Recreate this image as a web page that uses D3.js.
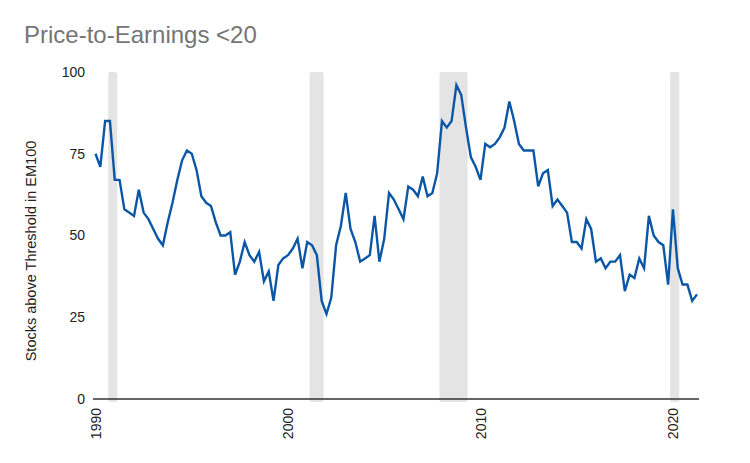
<!DOCTYPE html>
<html lang="en">
<head>
    <meta charset="UTF-8">
    <title>Price-to-Earnings &lt;20</title>
    <style type="text/css">
        * {
            margin: 0;
            padding: 0;
        }
        body {
            background: white;
            font-family: "Liberation Sans", Arial, sans-serif;
        }
    </style>
</head>
<body>
<div id="chart-area"></div>
<script src="https://cdn.jsdelivr.net/npm/d3@7/dist/d3.min.js"></script>
<script type="text/javascript">
    // quarterly readings, first one is 1990 Q1
    const startYear = 1990
    const values = [
      75, 71, 85, 85, 67, 67, 58, 57, 56, 64,
      57, 55, 52, 49, 47, 54, 60, 67, 73, 76,
      75, 70, 62, 60, 59, 54, 50, 50, 51, 38,
      42, 48, 44, 42, 45, 36, 39, 30, 41, 43,
      44, 46, 49, 40, 48, 47, 44, 30, 26, 31,
      47, 53, 63, 52, 48, 42, 43, 44, 56, 42,
      49, 63, 61, 58, 55, 65, 64, 62, 68, 62,
      63, 69, 85, 83, 85, 96, 93, 83, 74, 71,
      67, 78, 77, 78, 80, 83, 91, 85, 78, 76,
      76, 76, 65, 69, 70, 59, 61, 59, 57, 48,
      48, 46, 55, 52, 42, 43, 40, 42, 42, 44,
      33, 38, 37, 43, 40, 56, 50, 48, 47, 35,
      58, 40, 35, 35, 30, 32
    ]
    // shaded recession periods (decimal years)
    const bandStart = [1990.66, 2001.12, 2007.87, 2019.85]
    const bandEnd = [1991.13, 2001.85, 2009.33, 2020.33]
    const xTicks = [1990, 2000, 2010, 2020]
    const yTicks = [0, 25, 50, 75, 100]

    const data = values.map((v, i) => ({ t: startYear + i / 4, v: v }))

    const width = 750
    const height = 463
    const font = '"Liberation Sans", Arial, sans-serif'
    const svg = d3.select('#chart-area').append('svg')
    .attr('width', width)
    .attr('height', height)
    .style('background-color', 'white')

    const x = d3.scaleLinear()
    .domain([startYear, d3.max(data, d => d.t)])
    .range([95.5, 697])

    const y = d3.scaleLinear()
    .domain([0, 100])
    .range([399, 72])

    // recession bands
    svg.selectAll('rect.band').data(bandStart).enter().append('rect')
    .attr('class', 'band')
    .attr('x', d => x(d))
    .attr('y', y(100))
    .attr('width', (d, i) => x(bandEnd[i]) - x(d))
    .attr('height', y(0) - y(100) + 3)
    .attr('rx', 2)
    .attr('fill', '#e4e4e4')

    // y axis labels, no line
    const yAxis = svg.append('g')
    .attr('transform', 'translate(85,0)')
    .call(d3.axisLeft(y).tickValues(yTicks).tickSize(0).tickPadding(0))
    yAxis.select('.domain').remove()
    yAxis.selectAll('text')
    .attr('font-family', font)
    .attr('font-size', 14)
    .attr('fill', '#222')

    // x axis
    const xAxis = svg.append('g')
    .attr('transform', 'translate(0,' + y(0) + ')')
    .call(d3.axisBottom(x).tickValues(xTicks).tickFormat(d3.format('d')).tickSize(0).tickSizeOuter(0))
    xAxis.select('.domain')
    .attr('d', 'M93,0H699')
    .attr('stroke', '#333')
    .attr('stroke-width', 1.3)
    xAxis.selectAll('text')
    .attr('font-family', font)
    .attr('font-size', 14)
    .attr('fill', '#222')
    .attr('transform', 'rotate(-90)')
    .attr('text-anchor', 'end')
    .attr('x', -9)
    .attr('y', 0)
    .attr('dy', '0.35em')

    // the series
    const line = d3.line()
    .x(d => x(d.t))
    .y(d => y(d.v))

    svg.append('path')
    .datum(data)
    .attr('d', line)
    .attr('fill', 'none')
    .attr('stroke', '#0b57a6')
    .attr('stroke-width', 2.4)
    .attr('stroke-linejoin', 'miter')

    // titles
    svg.append('text')
    .attr('x', 24)
    .attr('y', 43)
    .attr('font-family', font)
    .attr('font-size', 24)
    .attr('fill', '#757575')
    .text('Price-to-Earnings <20')

    svg.append('text')
    .attr('transform', 'translate(35.5,251) rotate(-90)')
    .attr('text-anchor', 'middle')
    .attr('font-family', font)
    .attr('font-size', 14.5)
    .attr('fill', '#222')
    .text('Stocks above Threshold in EM100')
</script>
</body>
</html>
